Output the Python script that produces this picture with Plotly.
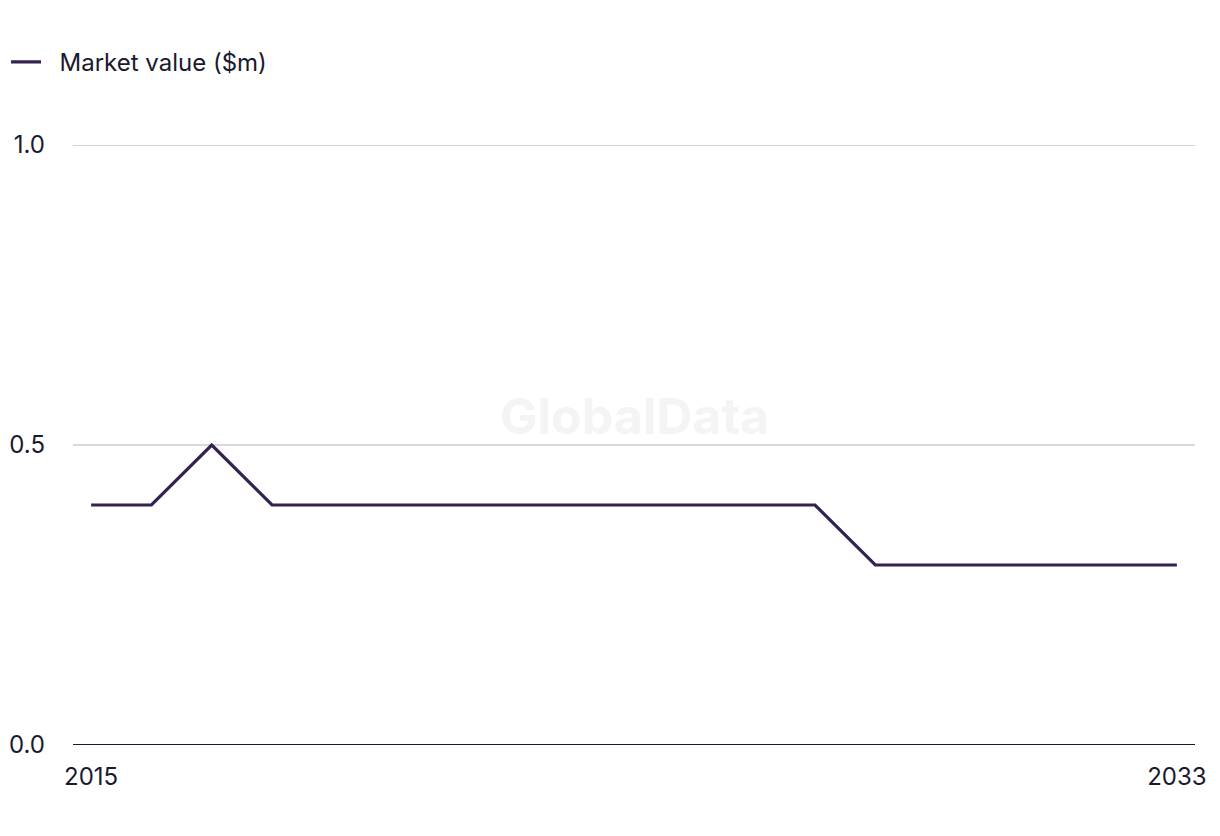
import plotly.graph_objects as go

years = list(range(2015, 2034))
market_value = [0.4, 0.4, 0.5, 0.4, 0.4, 0.4, 0.4, 0.4, 0.4, 0.4, 0.4, 0.4, 0.4,
                0.3, 0.3, 0.3, 0.3, 0.3, 0.3]
series_name = "Market value ($m)"
y_ticks = [0.0, 0.5, 1.0]
y_ticklabels = ["0.0", "0.5", "1.0"]
x_ticks = [2015, 2033]

font_family = "Inter, Roboto, Arial, sans-serif"
text_color = "#1a1a2e"
line_color = "#35234f"
fs = 24

fig = go.Figure()
fig.add_trace(go.Scatter(
    x=years, y=market_value, mode="lines", name="\u00a0\u00a0" + series_name,
    line=dict(color=line_color, width=3.2), cliponaxis=False,
))

fig.update_layout(
    width=1204, height=820,
    margin=dict(l=65, r=17, t=137, b=83, autoexpand=False),
    paper_bgcolor="white", plot_bgcolor="white",
    font=dict(family=font_family, size=fs, color=text_color),
    showlegend=True,
    legend=dict(orientation="h", x=-0.0597, y=1.138, xanchor="left", yanchor="middle",
                font=dict(size=fs, color=text_color), itemwidth=30,
                bgcolor="rgba(0,0,0,0)"),
    xaxis=dict(range=[2014.7, 2033.3], tickvals=x_ticks, ticktext=[str(v) for v in x_ticks],
               showgrid=False, zeroline=False, showline=False, ticks="", ticklabelstandoff=15,
               automargin=False, tickfont=dict(size=fs, color=text_color)),
    yaxis=dict(range=[0, 1], tickvals=y_ticks, ticktext=y_ticklabels,
               showgrid=True, gridcolor="#d9d9d9", gridwidth=1.5, zeroline=False,
               showline=False, ticks="", ticklabelstandoff=27, automargin=False,
               tickfont=dict(size=fs, color=text_color)),
    shapes=[
        dict(type="line", xref="paper", yref="y", x0=0, x1=1, y0=1, y1=1,
             line=dict(color="#d4d4d4", width=2), layer="below"),
        dict(type="line", xref="paper", yref="y", x0=0, x1=1, y0=0, y1=0,
             line=dict(color=text_color, width=2)),
    ],
    annotations=[dict(text="<b>GlobalData</b>", x=0.5, y=0.548, xref="paper", yref="paper",
                      showarrow=False, font=dict(size=50, color="#f4f4f4", family=font_family))],
)

fig.write_html("out.html")
